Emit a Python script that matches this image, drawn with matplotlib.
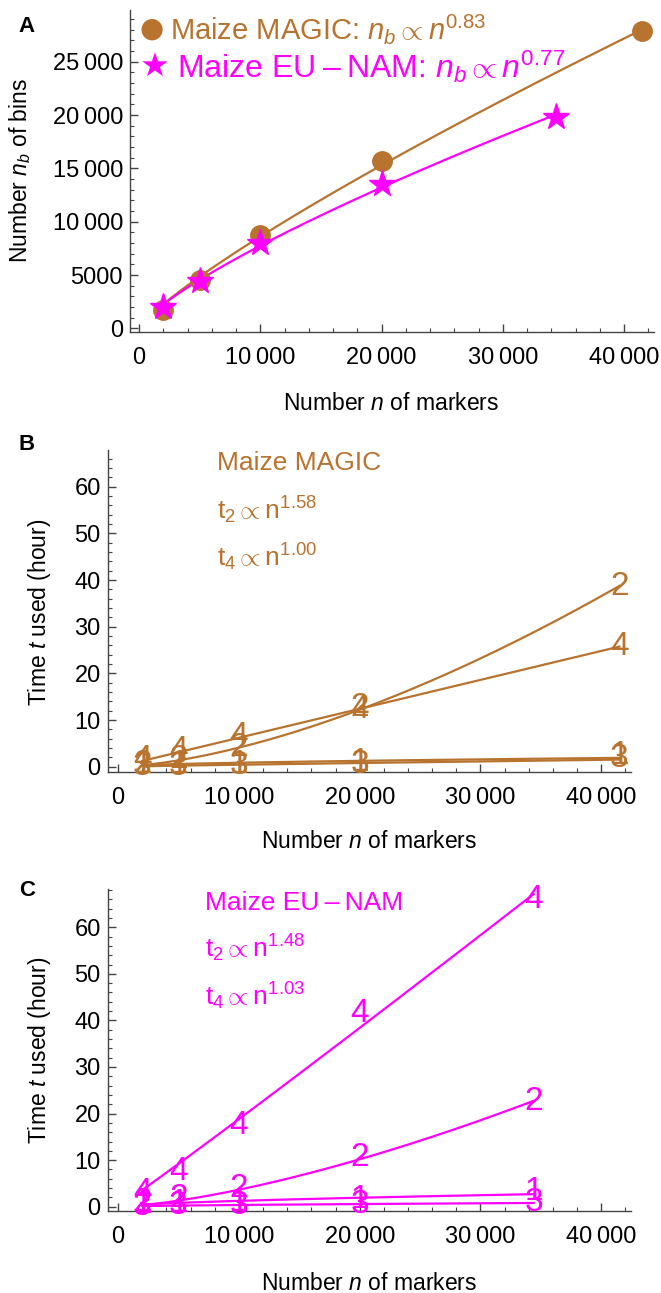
import numpy as np
import matplotlib
matplotlib.use("Agg")
import matplotlib.pyplot as plt
from matplotlib.ticker import MultipleLocator, FuncFormatter

plt.rcParams['font.family'] = ['Liberation Sans', 'DejaVu Sans']
plt.rcParams['mathtext.fontset'] = 'custom'
plt.rcParams['mathtext.rm'] = 'Liberation Sans'
plt.rcParams['mathtext.it'] = 'Liberation Sans:italic'
plt.rcParams['mathtext.bf'] = 'Liberation Sans:bold'

BROWN = '#b8732f'
MAGENTA = '#ff00ff'
AXCOL = '#444444'

# panel A: number of bins vs number of markers
n_magic = [2000, 5000, 10000, 20000, 41500]
bins_magic = [1720, 4530, 8750, 15690, 27875]
n_eunam = [2000, 5000, 10000, 20000, 34400]
bins_eunam = [2030, 4440, 7970, 13500, 19840]

# panels B and C: time used (hour), one list per method 1..4
methods = ['1', '2', '3', '4']
time_magic = {
    '1': [0.4, 0.4, 0.5, 0.8, 2.4],
    '2': [0.5, 1.6, 4.2, 12.6, 38.6],
    '3': [0.1, 0.15, 0.2, 0.4, 1.8],
    '4': [1.5, 3.5, 6.5, 12.2, 25.7],
}
time_eunam = {
    '1': [0.5, 0.7, 0.9, 1.5, 3.2],
    '2': [0.8, 1.8, 4.0, 10.5, 22.5],
    '3': [0.15, 0.2, 0.3, 0.5, 0.9],
    '4': [3.0, 7.5, 17.5, 41.5, 66.0],
}
exp_magic = {'2': 1.58, '4': 1.00}
exp_eunam = {'2': 1.48, '4': 1.03}

W, H = 661, 1293
fig = plt.figure(figsize=(W / 100, H / 100), dpi=100)


def px_axes(left, right, top, bottom):
    return fig.add_axes([left / W, 1 - bottom / H, (right - left) / W, (bottom - top) / H])


def thousands(v, pos):
    v = int(round(v))
    if abs(v) >= 10000:
        return '%d\u2009%03d' % (v // 1000, v % 1000)
    return '%d' % v


def power_fit(n, y, b=None):
    n = np.asarray(n, float)
    y = np.asarray(y, float)
    if b is None:
        b = np.polyfit(np.log(n), np.log(y), 1)[0]
    c = np.sum(y * n ** b) / np.sum(n ** (2 * b))
    xs = np.linspace(n.min(), n.max(), 200)
    return xs, c * xs ** b


def style(ax, xmaj, xmin, ymaj, ymin):
    for s in ['top', 'right']:
        ax.spines[s].set_visible(False)
    for s in ['left', 'bottom']:
        ax.spines[s].set_color(AXCOL)
        ax.spines[s].set_linewidth(1.0)
    ax.xaxis.set_major_locator(MultipleLocator(xmaj))
    ax.xaxis.set_minor_locator(MultipleLocator(xmin))
    ax.yaxis.set_major_locator(MultipleLocator(ymaj))
    ax.yaxis.set_minor_locator(MultipleLocator(ymin))
    ax.xaxis.set_major_formatter(FuncFormatter(thousands))
    ax.yaxis.set_major_formatter(FuncFormatter(thousands))
    ax.tick_params(which='both', direction='in', color=AXCOL, labelsize=17)
    ax.tick_params(which='major', length=6, width=1.0)
    ax.tick_params(which='minor', length=3, width=0.8)
    ax.tick_params(axis='x', which='major', pad=11)
    ax.tick_params(axis='y', which='major', pad=5)
    ax.set_facecolor('none')


# ---------------- panel A ----------------
axA = px_axes(130, 654, 10, 332)
axA.set_xlim(-742, 42457)
axA.set_ylim(-347, 29859)
style(axA, 10000, 2000, 5000, 1000)
axA.set_yticks([0, 5000, 10000, 15000, 20000, 25000])

xs, ys = power_fit(n_magic, bins_magic, 0.83)
axA.plot(xs, ys, color=BROWN, lw=1.6, zorder=2, clip_on=False)
xs, ys = power_fit(n_eunam, bins_eunam, 0.77)
axA.plot(xs, ys, color=MAGENTA, lw=1.6, zorder=3, clip_on=False)
axA.plot(n_magic, bins_magic, 'o', color=BROWN, ms=14, zorder=4, clip_on=False)
axA.plot(n_eunam, bins_eunam, '*', color=MAGENTA, ms=20, mec=MAGENTA, zorder=5, clip_on=False)

fig.text(152 / W, 1 - 29 / H, '\u25cf', color=BROWN, fontsize=20, ha='center', va='center',
         family='DejaVu Sans')
fig.text(170 / W, 1 - 29 / H, r'Maize MAGIC: $n_b \propto n^{0.83}$', color=BROWN,
         fontsize=21, ha='left', va='center')
fig.text(155 / W, 1 - 67 / H, '\u2605', color=MAGENTA, fontsize=24, ha='center', va='center',
         family='DejaVu Sans')
fig.text(177 / W, 1 - 67 / H, 'Maize EU\u2009\u2013\u2009NAM: ' + r'$n_b \propto n^{0.77}$',
         color=MAGENTA, fontsize=23, ha='left', va='center')

fig.text(27 / W, 1 - 27 / H, 'A', fontsize=16, fontweight='bold', ha='center', va='center')
fig.text(20 / W, 1 - 171 / H, r'Number $n_b$ of bins', fontsize=16.5, rotation=90,
         ha='center', va='center')
fig.text(391 / W, 1 - 403 / H, r'Number $n$ of markers', fontsize=16.5, ha='center', va='center')


# ---------------- panels B and C ----------------
def time_panel(top, bottom, ylim, n, times, exps, color, title, ex2, ex4,
               label, label_y, ylab_y, xlab_y, text_x, text_ys):
    ax = px_axes(107.6, 631, top, bottom)
    ax.set_xlim(-869, 42459)
    ax.set_ylim(*ylim)
    style(ax, 10000, 2000, 10, 2)
    ax.set_yticks([0, 10, 20, 30, 40, 50, 60])
    for m in methods:
        xs, ys = power_fit(n, times[m], exps.get(m))
        ax.plot(xs, ys, color=color, lw=1.6, zorder=2, clip_on=False)
    for m in methods:
        for xv, yv in zip(n, times[m]):
            ax.text(xv, yv, m, color=color, fontsize=24, ha='center', va='center',
                    zorder=3, clip_on=False)
    fig.text(text_x / W, 1 - text_ys[0] / H, title, color=color, fontsize=19,
             ha='left', va='center')
    fig.text(text_x / W, 1 - text_ys[1] / H, r'$\mathrm{t}_2 \propto \mathrm{n}^{%s}$' % ex2,
             color=color, fontsize=19, ha='left', va='center')
    fig.text(text_x / W, 1 - text_ys[2] / H, r'$\mathrm{t}_4 \propto \mathrm{n}^{%s}$' % ex4,
             color=color, fontsize=19, ha='left', va='center')
    fig.text(27 / W, 1 - label_y / H, label, fontsize=16, fontweight='bold',
             ha='center', va='center')
    fig.text(40 / W, 1 - ylab_y / H, r'Time $t$ used (hour)', fontsize=16.5, rotation=90,
             ha='center', va='center')
    fig.text(369 / W, 1 - xlab_y / H, r'Number $n$ of markers', fontsize=16.5,
             ha='center', va='center')
    return ax


time_panel(450, 771.7, (-1.07, 67.86), n_magic, time_magic, exp_magic, BROWN,
           'Maize MAGIC', '1.58', '1.00', 'B', 445, 612, 842, 217, (463, 510, 557))
time_panel(889, 1211, (-0.92, 68.22), n_eunam, time_eunam, exp_eunam, MAGENTA,
           'Maize EU\u2009\u2013\u2009NAM', '1.48', '1.03', 'C', 890, 1050, 1283, 205,
           (903, 948, 996))

fig.savefig('out.png', dpi=100)
